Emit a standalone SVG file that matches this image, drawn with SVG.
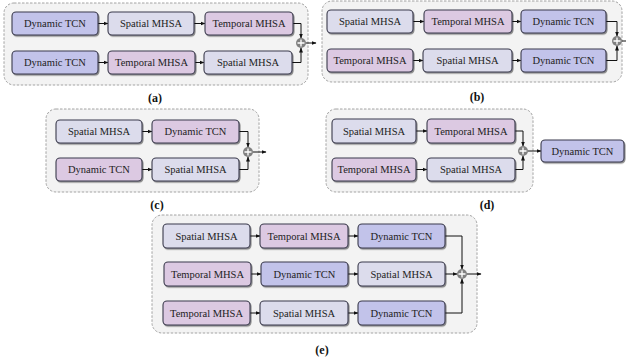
<svg xmlns="http://www.w3.org/2000/svg" width="626" height="358" viewBox="0 0 626 358">
<defs>
<style>
.cont{fill:#f3f3f3;stroke:#9a9a9a;stroke-width:0.9;stroke-dasharray:2.5 1.5}
.n rect{stroke:#3a3a4c;stroke-width:1.1;filter:url(#sh)}
.tcn rect{fill:#c2c3ea}
.sp rect{fill:#dcdcec}
.tm rect{fill:#dcc9e2}
.n text{font-family:"Liberation Serif","Times New Roman",serif;font-size:10.5px;fill:#222;text-anchor:middle}
.lab{font-family:"Liberation Serif","Times New Roman",serif;font-size:12px;font-weight:bold;fill:#111;text-anchor:middle}
.c path{fill:none;stroke:#111;stroke-width:1}
.plus circle{fill:#808080}
.plus path{stroke:#fff;stroke-width:1.3}
</style>
<filter id="sh" x="-10%" y="-20%" width="125%" height="150%">
<feDropShadow dx="1" dy="1.2" stdDeviation="0.7" flood-color="#000" flood-opacity="0.45"/>
</filter>
<marker id="ar" markerWidth="5" markerHeight="5" refX="4.5" refY="2.5" orient="auto" markerUnits="userSpaceOnUse">
<path d="M0,0.5 L5,2.5 L0,4.5 z" fill="#111"/>
</marker>
</defs>

<!-- containers -->
<rect class="cont" x="4" y="3" width="304" height="82" rx="10"/>
<rect class="cont" x="322" y="1" width="300" height="81" rx="10"/>
<rect class="cont" x="46" y="109" width="213" height="83" rx="10"/>
<rect class="cont" x="326" y="109" width="207" height="83" rx="10"/>
<rect class="cont" x="152" y="215" width="325" height="118" rx="10"/>

<!-- connectors -->
<g id="connectors" class="c">
<!-- a -->
<path d="M98,23.5 H108" marker-end="url(#ar)"/>
<path d="M194,23.5 H205" marker-end="url(#ar)"/>
<path d="M98,62.5 H108" marker-end="url(#ar)"/>
<path d="M195,62.5 H204" marker-end="url(#ar)"/>
<path d="M293,23.5 H301 V38" marker-end="url(#ar)"/>
<path d="M292,62.5 H301 V48" marker-end="url(#ar)"/>
<path d="M306,43 H316" marker-end="url(#ar)"/>
<!-- b -->
<path d="M413,21.5 H424" marker-end="url(#ar)"/>
<path d="M512,21.5 H521" marker-end="url(#ar)"/>
<path d="M413,60.5 H423" marker-end="url(#ar)"/>
<path d="M512,60.5 H521" marker-end="url(#ar)"/>
<path d="M606,21.5 H617 V36" marker-end="url(#ar)"/>
<path d="M606,60.5 H617 V46" marker-end="url(#ar)"/>
<path d="M622,41 H626"/>
<!-- c -->
<path d="M142,131.5 H152" marker-end="url(#ar)"/>
<path d="M142,169.5 H152" marker-end="url(#ar)"/>
<path d="M239,131.5 H248 V147" marker-end="url(#ar)"/>
<path d="M239,169.5 H248 V157" marker-end="url(#ar)"/>
<path d="M253,152 H266" marker-end="url(#ar)"/>
<!-- d -->
<path d="M416,131 H427" marker-end="url(#ar)"/>
<path d="M416,169.5 H427" marker-end="url(#ar)"/>
<path d="M515,131 H523 V146" marker-end="url(#ar)"/>
<path d="M515,169.5 H523 V156" marker-end="url(#ar)"/>
<path d="M528,151 H541" marker-end="url(#ar)"/>
<!-- e -->
<path d="M250,236 H260" marker-end="url(#ar)"/>
<path d="M348,236 H358" marker-end="url(#ar)"/>
<path d="M251,274 H261" marker-end="url(#ar)"/>
<path d="M348,274 H358" marker-end="url(#ar)"/>
<path d="M250,313 H260" marker-end="url(#ar)"/>
<path d="M348,313 H358" marker-end="url(#ar)"/>
<path d="M445,236 H462 V269" marker-end="url(#ar)"/>
<path d="M445,274 H457" marker-end="url(#ar)"/>
<path d="M445,313 H462 V279" marker-end="url(#ar)"/>
<path d="M467,274 H481" marker-end="url(#ar)"/>
</g>

<!-- plus nodes -->
<g id="plus-a" class="plus"><circle cx="301" cy="43" r="5"/><path d="M297.5,43 H304.5 M301,39.5 V46.5"/></g>
<g id="plus-b" class="plus"><circle cx="617" cy="41" r="5"/><path d="M613.5,41 H620.5 M617,37.5 V44.5"/></g>
<g id="plus-c" class="plus"><circle cx="248" cy="152" r="5"/><path d="M244.5,152 H251.5 M248,148.5 V155.5"/></g>
<g id="plus-d" class="plus"><circle cx="523" cy="151" r="5"/><path d="M519.5,151 H526.5 M523,147.5 V154.5"/></g>
<g id="plus-e" class="plus"><circle cx="462" cy="274" r="5"/><path d="M458.5,274 H465.5 M462,270.5 V277.5"/></g>

<!-- (a) -->
<g id="a1" class="n tcn"><rect x="12" y="12" width="86" height="23" rx="4"/><text x="55" y="27.3">Dynamic TCN</text></g>
<g id="a2" class="n sp"><rect x="108" y="12" width="86" height="23" rx="4"/><text x="151" y="27.3">Spatial MHSA</text></g>
<g id="a3" class="n tm"><rect x="205" y="12" width="88" height="23" rx="4"/><text x="249" y="27.3">Temporal MHSA</text></g>
<g id="a4" class="n tcn"><rect x="12" y="51" width="86" height="23" rx="4"/><text x="55" y="66.3">Dynamic TCN</text></g>
<g id="a5" class="n tm"><rect x="108" y="51" width="87" height="23" rx="4"/><text x="151.5" y="66.3">Temporal MHSA</text></g>
<g id="a6" class="n sp"><rect x="204" y="51" width="88" height="23" rx="4"/><text x="248" y="66.3">Spatial MHSA</text></g>

<!-- (b) -->
<g id="b1" class="n sp"><rect x="327" y="10" width="86" height="23" rx="4"/><text x="370" y="25.3">Spatial MHSA</text></g>
<g id="b2" class="n tm"><rect x="424" y="10" width="88" height="23" rx="4"/><text x="468" y="25.3">Temporal MHSA</text></g>
<g id="b3" class="n tcn"><rect x="521" y="10" width="85" height="23" rx="4"/><text x="563.5" y="25.3">Dynamic TCN</text></g>
<g id="b4" class="n tm"><rect x="327" y="49" width="86" height="23" rx="4"/><text x="370" y="64.3">Temporal MHSA</text></g>
<g id="b5" class="n sp"><rect x="423" y="49" width="89" height="23" rx="4"/><text x="467.5" y="64.3">Spatial MHSA</text></g>
<g id="b6" class="n tcn"><rect x="521" y="49" width="85" height="23" rx="4"/><text x="563.5" y="64.3">Dynamic TCN</text></g>

<!-- (c) -->
<g id="c1" class="n sp"><rect x="56" y="120" width="86" height="23" rx="4"/><text x="99" y="135.3">Spatial MHSA</text></g>
<g id="c2" class="n tm"><rect x="152" y="120" width="87" height="23" rx="4"/><text x="195.5" y="135.3">Dynamic TCN</text></g>
<g id="c3" class="n tm"><rect x="56" y="158" width="86" height="23" rx="4"/><text x="99" y="173.3">Dynamic TCN</text></g>
<g id="c4" class="n sp"><rect x="152" y="158" width="87" height="23" rx="4"/><text x="195.5" y="173.3">Spatial MHSA</text></g>

<!-- (d) -->
<g id="d1" class="n sp"><rect x="332" y="119" width="84" height="24" rx="4"/><text x="374" y="134.8">Spatial MHSA</text></g>
<g id="d2" class="n tm"><rect x="427" y="119" width="88" height="24" rx="4"/><text x="471" y="134.8">Temporal MHSA</text></g>
<g id="d3" class="n tm"><rect x="332" y="158" width="84" height="23" rx="4"/><text x="374" y="173.3">Temporal MHSA</text></g>
<g id="d4" class="n sp"><rect x="427" y="158" width="88" height="23" rx="4"/><text x="471" y="173.3">Spatial MHSA</text></g>
<g id="d5" class="n tcn"><rect x="541" y="140" width="83" height="22" rx="4"/><text x="582.5" y="154.8">Dynamic TCN</text></g>

<!-- (e) -->
<g id="e1" class="n sp"><rect x="163" y="224" width="87" height="24" rx="4"/><text x="206.5" y="239.8">Spatial MHSA</text></g>
<g id="e2" class="n tm"><rect x="260" y="224" width="88" height="24" rx="4"/><text x="304" y="239.8">Temporal MHSA</text></g>
<g id="e3" class="n tcn"><rect x="358" y="224" width="87" height="24" rx="4"/><text x="401.5" y="239.8">Dynamic TCN</text></g>
<g id="e4" class="n tm"><rect x="164" y="262" width="87" height="24" rx="4"/><text x="207.5" y="277.8">Temporal MHSA</text></g>
<g id="e5" class="n tcn"><rect x="261" y="262" width="87" height="24" rx="4"/><text x="304.5" y="277.8">Dynamic TCN</text></g>
<g id="e6" class="n sp"><rect x="358" y="262" width="87" height="24" rx="4"/><text x="401.5" y="277.8">Spatial MHSA</text></g>
<g id="e7" class="n tm"><rect x="163" y="301" width="87" height="24" rx="4"/><text x="206.5" y="316.8">Temporal MHSA</text></g>
<g id="e8" class="n sp"><rect x="260" y="301" width="88" height="24" rx="4"/><text x="304" y="316.8">Spatial MHSA</text></g>
<g id="e9" class="n tcn"><rect x="358" y="301" width="87" height="24" rx="4"/><text x="401.5" y="316.8">Dynamic TCN</text></g>

<!-- labels -->
<text class="lab" x="155" y="102">(a)</text>
<text class="lab" x="477" y="101">(b)</text>
<text class="lab" x="157" y="209">(c)</text>
<text class="lab" x="487" y="209">(d)</text>
<text class="lab" x="322" y="354">(e)</text>
</svg>
